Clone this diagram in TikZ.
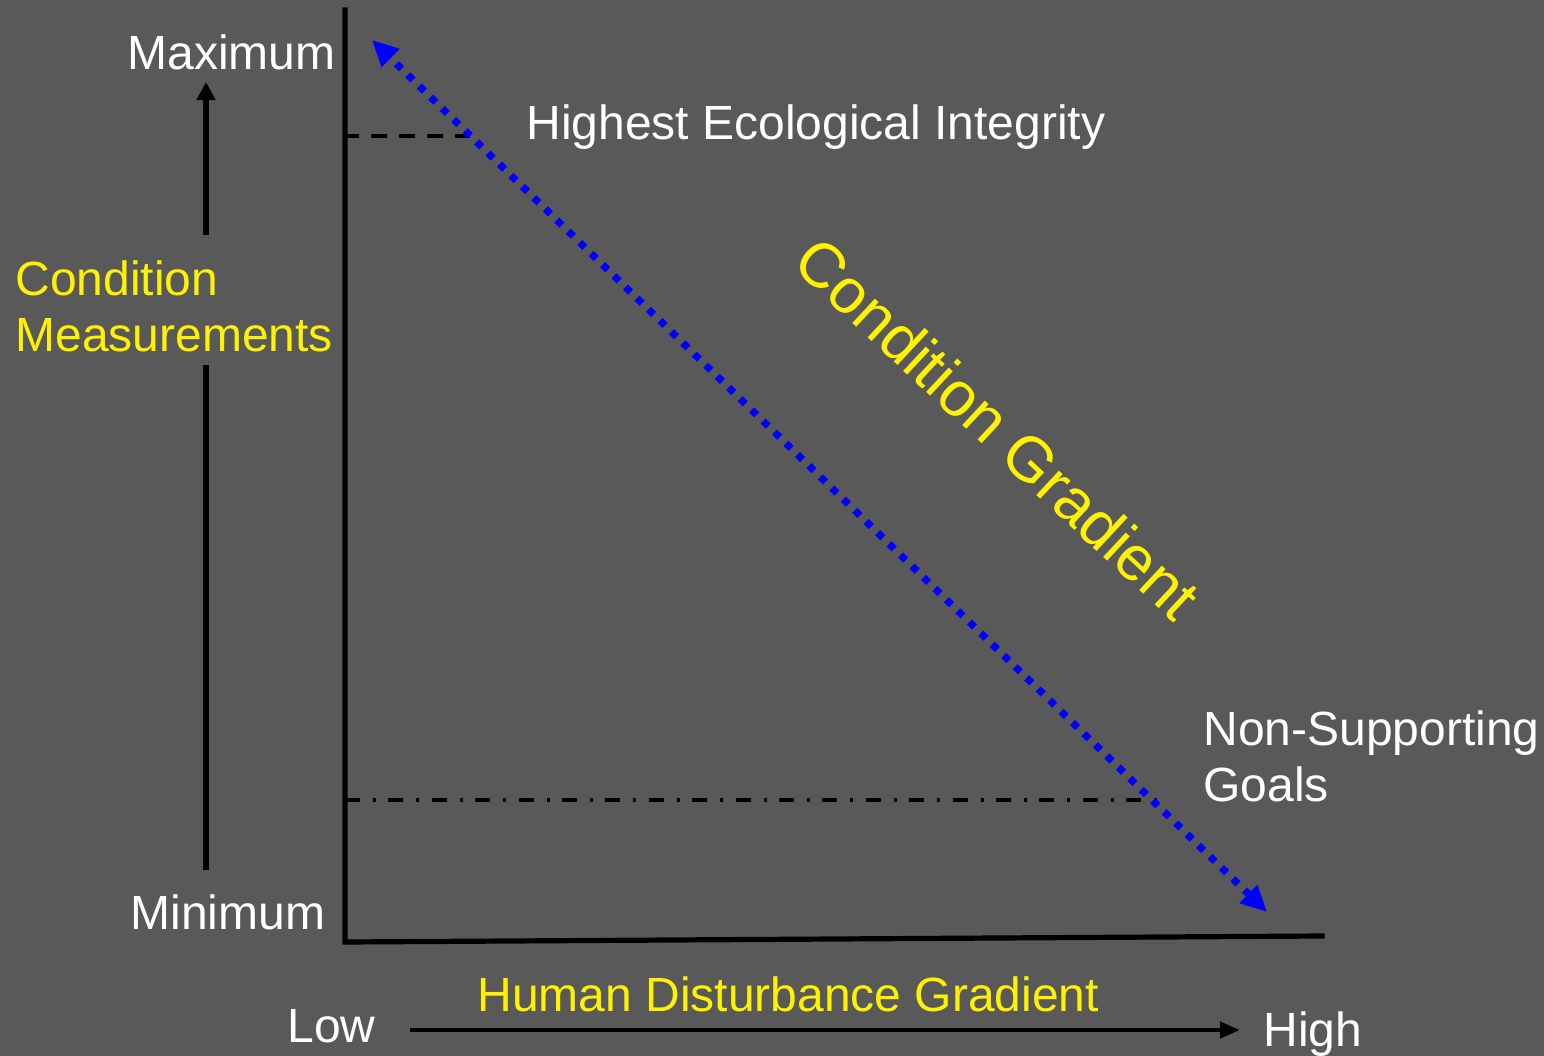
\documentclass[tikz,border=0pt]{standalone}
\usepackage{fontspec}
\setmainfont{Liberation Sans}
\usetikzlibrary{arrows.meta}
\definecolor{bg}{HTML}{595959}
\begin{document}
\begin{tikzpicture}[x=0.5pt,y=-0.5pt,
  lbl/.style={text=white,font=\fontsize{24}{28}\selectfont,inner sep=0pt,anchor=base west},
  ylbl/.style={lbl,text=yellow},
  axis/.style={line width=2.6pt,black},
  guide/.style={line width=1.7pt,black},
  dotarrow/.style={draw=blue,line width=3.6pt,dash pattern=on 3.6pt off 4.4pt,
     {Triangle[length=13pt,width=12pt]}-{Triangle[length=13pt,width=12pt]}}
]
\fill[bg] (0,0) rectangle (1544,1056);
\useasboundingbox (0,0) rectangle (1544,1056);
% coordinates
\coordinate (ytop) at (345,10);
\coordinate (orig) at (345,942);
\coordinate (xend) at (1322,936);
\coordinate (dashL) at (343,136);
\coordinate (dashR) at (470,136);
\coordinate (ddL) at (345,800);
\coordinate (ddR) at (1160,800);
\coordinate (gtop) at (372,40);
\coordinate (gbot) at (1267,912);
\coordinate (la1) at (206,870);
\coordinate (la2) at (206,365);
\coordinate (la3) at (206,235);
\coordinate (la4) at (206,82);
\coordinate (ba1) at (410,1030);
\coordinate (ba2) at (1240,1030);
% axes
\draw[axis,line cap=rect] (ytop) -- (orig) -- (xend);
% guides
\draw[guide,dash pattern=on 8pt off 6pt] (dashL) -- (dashR);
\draw[guide,dash pattern=on 7.5pt off 6.5pt on 1.5pt off 6.2pt] (ddL) -- (ddR);
% gradient arrow
\draw[dotarrow] (gbot) -- (gtop);
% left arrow
\draw[axis] (la1) -- (la2);
\draw[axis,-{Triangle[length=9pt,width=9pt]}] (la3) -- (la4);
% bottom arrow
\draw[line width=2.2pt,-{Triangle[length=10pt,width=8pt]}] (ba1) -- (ba2);
% labels
\node[lbl] (max) at (127,69) {Maximum};
\node[lbl] (min) at (130,929) {Minimum};
\node[lbl] (hei) at (526,139) {Highest Ecological Integrity};
\node[ylbl] (cm1) at (15,295) {Condition};
\node[ylbl] (cm2) at (15,351) {Measurements};
\node[lbl] (ns1) at (1203,745) {Non-Supporting};
\node[lbl] (ns2) at (1203,801) {Goals};
\node[ylbl] (hdg) at (477,1011) {Human Disturbance Gradient};
\node[lbl] (low) at (287,1042) {Low};
\node[lbl] (high) at (1263,1046) {High};
\node[text=yellow,font=\fontsize{31.5}{36}\selectfont,inner sep=0pt,rotate=-43] (cg) at (998,428) {Condition Gradient};
\end{tikzpicture}
\end{document}
